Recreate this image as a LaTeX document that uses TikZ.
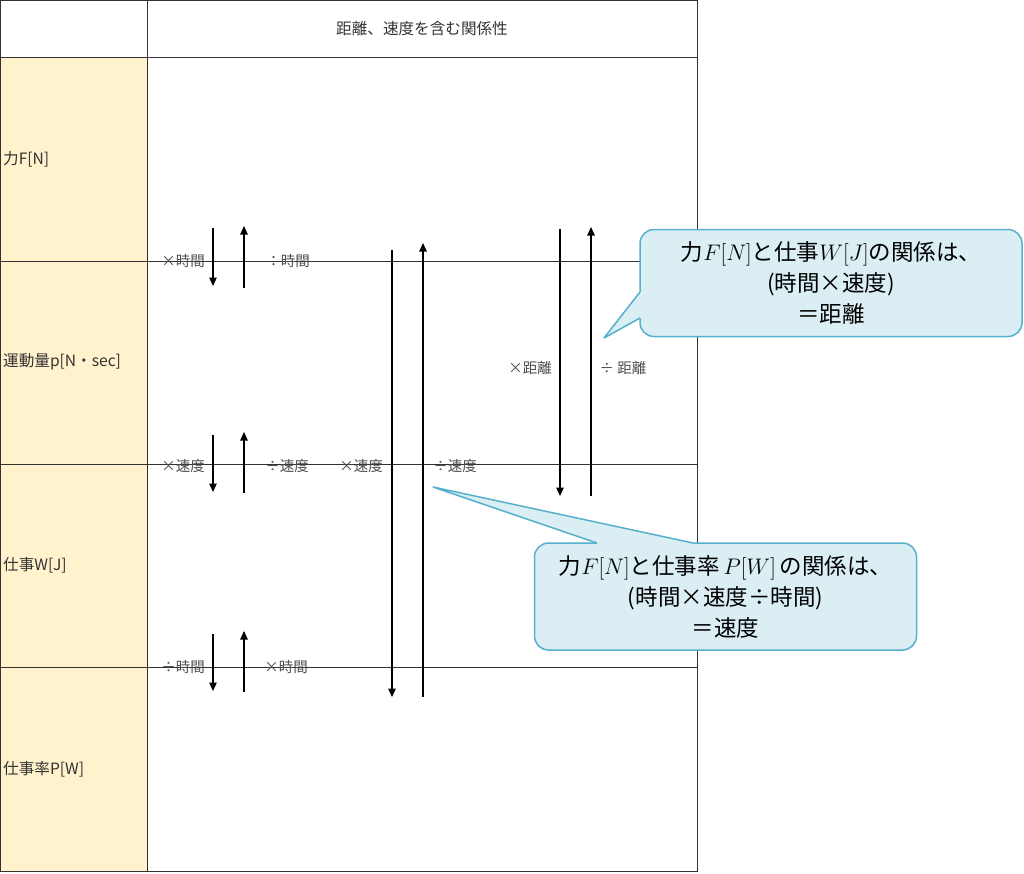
\documentclass[tikz,border=0pt]{standalone}
\usepackage{fix-cm}
\usepackage{fontspec}
\setmainfont{Noto Sans CJK JP}
\usetikzlibrary{arrows.meta}
\definecolor{rowyellow}{HTML}{FFF2CC}
\definecolor{notefill}{HTML}{DAEEF3}
\definecolor{noteline}{HTML}{55B0CB}
\definecolor{tablegray}{HTML}{333333}
\definecolor{opgray}{HTML}{4D4D4D}
\begin{document}
\begin{tikzpicture}[x=1pt,y=-1pt,
            tableline/.style={draw=tablegray,line width=0.9pt},
            rowlabel/.style={anchor=west,inner sep=0pt,text=tablegray,font=\fontsize{15.6}{18}\selectfont},
            oplabel/.style={inner sep=0pt,text=opgray,font=\fontsize{14.5}{17}\selectfont},
            arr/.style={-{Triangle[length=8.5pt,width=7.5pt]},line width=1.2pt},
            notebox/.style={draw=noteline,fill=notefill,line width=1.5pt,rounded corners=14pt,
              minimum width=382pt,minimum height=107pt,align=center,font=\fontsize{22.5}{31}\selectfont},
            notetip/.style={draw=noteline,line width=1.5pt,line join=round}]
            \useasboundingbox (0,0) rectangle (1024,873);
            % table
            \fill[rowyellow] (0,57) rectangle (147,871);
            \draw[tableline] (0,0) rectangle (697,871);
            \draw[tableline] (147,0) -- (147,871);
            \draw[tableline] (0,57) -- (697,57);
            \draw[tableline] (0,261) -- (697,261);
            \draw[tableline] (0,464) -- (697,464);
            \draw[tableline] (0,667) -- (697,667);
            \node[oplabel,text=tablegray,font=\fontsize{15.6}{18}\selectfont] (head) at (422,29) {距離、速度を含む関係性};
            \node[rowlabel] (F) at (3,159) {力F[N]};
            \node[rowlabel] (p) at (3,362) {運動量p[N・sec]};
            \node[rowlabel] (W) at (3,565) {仕事W[J]};
            \node[rowlabel] (P) at (3,769) {仕事率P[W]};
            % F <-> p
            \coordinate (FpD1) at (213,228);
            \coordinate (FpD2) at (213,286);
            \coordinate (FpU1) at (244,288);
            \coordinate (FpU2) at (244,226);
            \draw[arr] (FpD1) -- (FpD2);
            \draw[arr] (FpU1) -- (FpU2);
            \node[oplabel] (FpD) at (183,261) {×時間};
            \node[oplabel] (FpU) at (288,261) {：時間};
            % p <-> W
            \coordinate (pWD1) at (213,435);
            \coordinate (pWD2) at (213,492);
            \coordinate (pWU1) at (244,493);
            \coordinate (pWU2) at (244,432);
            \draw[arr] (pWD1) -- (pWD2);
            \draw[arr] (pWU1) -- (pWU2);
            \node[oplabel] (pWD) at (183,466) {×速度};
            \node[oplabel] (pWU) at (287,466) {÷速度};
            % W <-> P
            \coordinate (WPD1) at (213,634);
            \coordinate (WPD2) at (213,691);
            \coordinate (WPU1) at (244,692);
            \coordinate (WPU2) at (244,631);
            \draw[arr] (WPD1) -- (WPD2);
            \draw[arr] (WPU1) -- (WPU2);
            \node[oplabel] (WPD) at (183,667) {÷時間};
            \node[oplabel] (WPU) at (286,667) {×時間};
            % F <-> P
            \coordinate (FPD1) at (392,250);
            \coordinate (FPD2) at (392,697);
            \coordinate (FPU1) at (423,697);
            \coordinate (FPU2) at (423,243);
            \draw[arr] (FPD1) -- (FPD2);
            \draw[arr] (FPU1) -- (FPU2);
            \node[oplabel] (FPD) at (361,466) {×速度};
            \node[oplabel] (FPU) at (455,466) {÷速度};
            % F <-> W
            \coordinate (FWD1) at (560,229);
            \coordinate (FWD2) at (560,496);
            \coordinate (FWU1) at (591,496);
            \coordinate (FWU2) at (591,227);
            \draw[arr] (FWD1) -- (FWD2);
            \draw[arr] (FWU1) -- (FWU2);
            \node[oplabel] (FWD) at (530,368) {×距離};
            \node[oplabel] (FWU) at (623,368) {÷ 距離};
            % callouts
            \node[notebox] (noteW) at (831,283) {力$F[N]$と仕事$W[J]$の関係は、\\(時間×速度)\\＝距離};
            \coordinate (noteWa) at (640,292);
            \coordinate (noteWb) at (640,318);
            \coordinate (noteWtip) at (604,338);
            \fill[notefill] (noteWa) -- (noteWtip) -- (noteWb) -- (643,318) -- (643,292) -- cycle;
            \draw[notetip] (noteWa) -- (noteWtip) -- (noteWb);
            \node[notebox] (noteP) at (725.5,596.5) {力$F[N]$と仕事率\,$P[W]$\,の関係は、\\(時間×速度÷時間)\\＝速度};
            \coordinate (notePa) at (597,543);
            \coordinate (notePb) at (693,543);
            \coordinate (notePtip) at (433,487);
            \fill[notefill] (notePa) -- (notePtip) -- (notePb) -- (693,546) -- (597,546) -- cycle;
            \draw[notetip] (notePa) -- (notePtip) -- (notePb);
        \end{tikzpicture}
\end{document}
